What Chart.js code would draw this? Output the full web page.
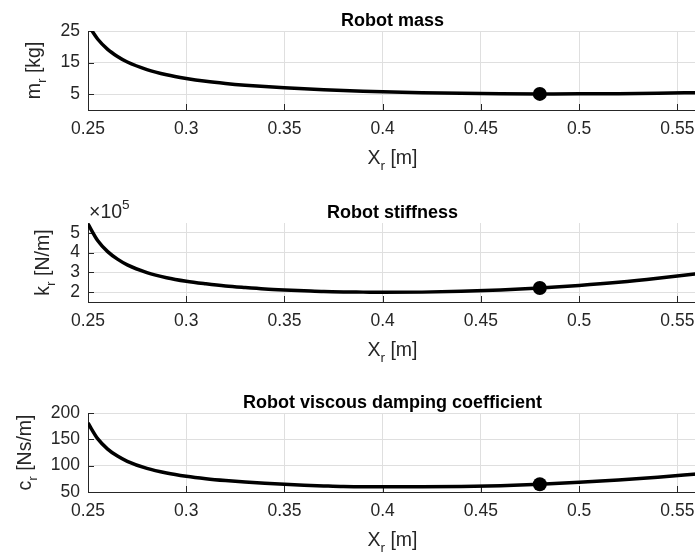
<!DOCTYPE html>
<html>
<head>
<meta charset="utf-8">
<script src="https://cdn.jsdelivr.net/npm/chart.js@4.4.1/dist/chart.umd.min.js"></script>
<style>
  html, body { margin: 0; padding: 0; background: #fff; }
  body { width: 695px; height: 554px; overflow: hidden; position: relative; }
  canvas { position: absolute; left: 0; top: 0; }
</style>
</head>
<body>
<canvas id="massChart" width="720" height="554"></canvas>
<canvas id="stiffChart" width="720" height="554"></canvas>
<canvas id="dampChart" width="720" height="554"></canvas>
<script>
// Robot position along the rail, X_r [m]
const POSITIONS = [0.25, 0.255, 0.26, 0.265, 0.27, 0.28, 0.29, 0.30, 0.31, 0.32, 0.33, 0.34, 0.35,
  0.36, 0.37, 0.38, 0.39, 0.40, 0.42, 0.44, 0.46, 0.48, 0.50, 0.52, 0.54, 0.56];
// m_r [kg]
const MASS = [27.0, 22.4, 19.2, 16.96, 15.2, 12.8, 11.16, 10.0, 9.1, 8.41, 7.85, 7.4, 7.02,
  6.7, 6.42, 6.18, 5.97, 5.79, 5.49, 5.28, 5.14, 5.09, 5.11, 5.18, 5.3, 5.48];
// k_r [N/m]
const STIFFNESS = [545000, 460000, 405000, 367000, 338000, 299000, 273000, 255000, 242000, 231000,
  223000, 216000, 211000, 207000, 203000, 201000, 200000, 199000, 200000, 204000, 211000, 221000,
  234000, 250000, 270000, 293000];
// c_r [Ns/m]
const DAMPING = [181, 150.8, 131.5, 118.2, 108.3, 94.8, 86.0, 79.8, 75.2, 71.65, 68.8, 66.5, 64.6,
  63.0, 61.6, 60.4, 60.0, 59.8, 59.8, 60.3, 62.0, 64.6, 68.3, 72.9, 78.2, 84.2];
// chosen design point
const DESIGN_X = 0.48;

const X_TICKS = [0.25, 0.3, 0.35, 0.4, 0.45, 0.5, 0.55];
const MASS_TICKS = [5, 15, 25];
const STIFF_TICKS = [200000, 300000, 400000, 500000];
const DAMP_TICKS = [50, 100, 150, 200];

const FONT = '"Liberation Sans", Arial, Helvetica, sans-serif';
const AXIS_COLOR = '#262626';
const GRID_COLOR = '#dfdfdf';
const TICK_SIZE = 17.5;
const LABEL_SIZE = 19.5;
const TITLE_SIZE = 18;

Chart.defaults.font.family = FONT;
Chart.defaults.color = AXIS_COLOR;

// text with sub/superscript pieces, e.g. X_r or 10^5
function drawRich(ctx, parts, x, y, size, align) {
  const fontOf = (kind) => `${kind ? size * 0.7 : size}px ${FONT}`;
  const widths = parts.map(([text, kind]) => {
    ctx.font = fontOf(kind);
    return ctx.measureText(text).width;
  });
  const total = widths.reduce((s, w) => s + w, 0);
  let cx = align === 'center' ? x - total / 2 : x;
  parts.forEach(([text, kind], i) => {
    ctx.font = fontOf(kind);
    const dy = kind === 'sub' ? size * 0.32 : kind === 'sup' ? -size * 0.45 : 0;
    ctx.fillText(text, cx, y + dy);
    cx += widths[i];
  });
}

const axesDecor = {
  id: 'axesDecor',
  beforeDatasetsDraw(chart) {
    // tick marks point into the plot area
    const { ctx, chartArea: a, scales } = chart;
    ctx.save();
    ctx.strokeStyle = AXIS_COLOR;
    ctx.lineWidth = 1;
    ctx.beginPath();
    scales.y.ticks.forEach((t) => {
      const py = Math.round(scales.y.getPixelForValue(t.value)) + 0.5;
      ctx.moveTo(a.left, py);
      ctx.lineTo(a.left + 6, py);
    });
    scales.x.ticks.forEach((t) => {
      const px = Math.round(scales.x.getPixelForValue(t.value)) + 0.5;
      ctx.moveTo(px, a.bottom);
      ctx.lineTo(px, a.bottom - 6);
    });
    ctx.stroke();
    ctx.restore();
  },
  afterDraw(chart, args, opts) {
    const { ctx, chartArea: a } = chart;
    const cx = (a.left + a.right) / 2;
    ctx.save();
    ctx.textBaseline = 'alphabetic';
    ctx.textAlign = 'center';
    ctx.fillStyle = '#000';
    ctx.font = `bold ${TITLE_SIZE}px ${FONT}`;
    ctx.fillText(opts.title, cx, a.top - 5);

    ctx.textAlign = 'left';
    ctx.fillStyle = AXIS_COLOR;
    drawRich(ctx, [['X'], ['r', 'sub'], [' [m]']], cx, a.bottom + 54, LABEL_SIZE, 'center');

    ctx.save();
    ctx.translate(opts.ylabelX, (a.top + a.bottom) / 2);
    ctx.rotate(-Math.PI / 2);
    drawRich(ctx, opts.ylabel, 0, 0, LABEL_SIZE, 'center');
    ctx.restore();

    if (opts.exponent) {
      drawRich(ctx, [['\u00d710'], [opts.exponent, 'sup']], a.left + 1, a.top - 5, LABEL_SIZE, 'left');
    }
    ctx.restore();
  }
};

function makePanel(id, cfg) {
  const designY = cfg.values[POSITIONS.indexOf(DESIGN_X)];
  new Chart(document.getElementById(id), {
    type: 'line',
    data: {
      datasets: [
        {
          data: [{ x: DESIGN_X, y: designY }],
          showLine: false,
          pointRadius: 7,
          pointBackgroundColor: '#000',
          pointBorderWidth: 0,
        },
        {
          data: POSITIONS.map((x, i) => ({ x, y: cfg.values[i] })),
          borderColor: '#000',
          borderWidth: 3.5,
          pointRadius: 0,
          cubicInterpolationMode: 'monotone',
        },
      ],
    },
    options: {
      responsive: false,
      animation: false,
      events: [],
      layout: { padding: { left: 0, right: 23, top: cfg.top, bottom: 554 - cfg.bottom - 40 } },
      plugins: {
        legend: { display: false },
        tooltip: { enabled: false },
        axesDecor: { title: cfg.title, ylabel: cfg.ylabel, ylabelX: cfg.ylabelX, exponent: cfg.exponent },
      },
      scales: {
        x: {
          type: 'linear',
          min: 0.25,
          max: 0.56,
          afterBuildTicks: (s) => { s.ticks = X_TICKS.map((value) => ({ value })); },
          afterFit: (s) => { s.height = 40; },
          grid: { color: GRID_COLOR, drawTicks: false },
          border: { color: AXIS_COLOR, width: 1 },
          ticks: { padding: 9, maxRotation: 0, font: { size: TICK_SIZE }, callback: (v) => String(v) },
        },
        y: {
          min: cfg.yMin,
          max: cfg.yMax,
          afterBuildTicks: (s) => { s.ticks = cfg.yTicks.map((value) => ({ value })); },
          afterFit: (s) => { s.width = 88; },
          grid: { color: GRID_COLOR, drawTicks: false },
          border: { color: AXIS_COLOR, width: 1 },
          ticks: { padding: 8, font: { size: TICK_SIZE }, callback: cfg.tickLabel },
        },
      },
    },
    plugins: [axesDecor],
  });
}

makePanel('massChart', {
  title: 'Robot mass',
  ylabel: [['m'], ['r', 'sub'], [' [kg]']],
  ylabelX: 40,
  values: MASS,
  yMin: 0,
  yMax: 25,
  yTicks: MASS_TICKS,
  tickLabel: (v) => String(v),
  top: 31,
  bottom: 110,
});

makePanel('stiffChart', {
  title: 'Robot stiffness',
  ylabel: [['k'], ['r', 'sub'], [' [N/m]']],
  ylabelX: 49,
  exponent: '5',
  values: STIFFNESS,
  yMin: 150000,
  yMax: 550000,
  yTicks: STIFF_TICKS,
  tickLabel: (v) => String(v / 100000),
  top: 223,
  bottom: 302,
});

makePanel('dampChart', {
  title: 'Robot viscous damping coefficient',
  ylabel: [['c'], ['r', 'sub'], [' [Ns/m]']],
  ylabelX: 31,
  values: DAMPING,
  yMin: 50,
  yMax: 200,
  yTicks: DAMP_TICKS,
  tickLabel: (v) => String(v),
  top: 413,
  bottom: 492,
});
</script>
</body>
</html>
